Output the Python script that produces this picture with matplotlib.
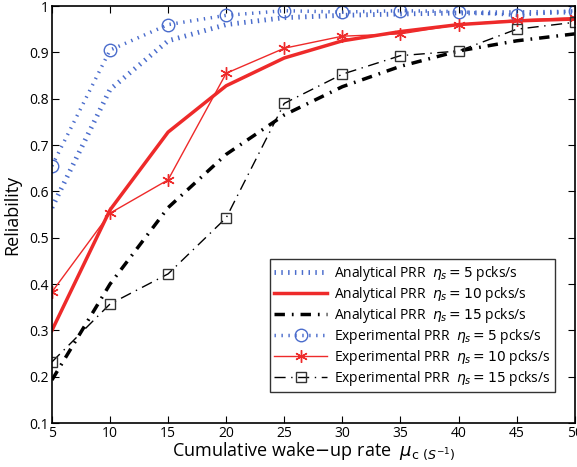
import numpy as np
import matplotlib
matplotlib.use("Agg")
import matplotlib.pyplot as plt

##
#    Data
##
mu = [5, 10, 15, 20, 25, 30, 35, 40, 45, 50]

ana_5 = [0.565, 0.82, 0.925, 0.96, 0.975, 0.98, 0.983, 0.985, 0.986, 0.987]
ana_10 = [0.30, 0.56, 0.728, 0.828, 0.888, 0.925, 0.945, 0.96, 0.968, 0.972]
ana_15 = [0.193, 0.40, 0.565, 0.68, 0.765, 0.826, 0.87, 0.903, 0.925, 0.94]

exp_5 = [0.655, 0.905, 0.96, 0.98, 0.99, 0.987, 0.99, 0.988, 0.98, 0.99]
exp_10 = [0.383, 0.553, 0.625, 0.855, 0.909, 0.935, 0.94, 0.96, 0.97, 0.975]
exp_15 = [0.232, 0.357, 0.422, 0.543, 0.79, 0.853, 0.893, 0.903, 0.95, 0.965]

labels = ["Analytical PRR  $\\eta_s = 5$ pcks/s",
          "Analytical PRR  $\\eta_s = 10$ pcks/s",
          "Analytical PRR  $\\eta_s = 15$ pcks/s",
          "Experimental PRR  $\\eta_s = 5$ pcks/s",
          "Experimental PRR  $\\eta_s = 10$ pcks/s",
          "Experimental PRR  $\\eta_s = 15$ pcks/s"]

blue = '#4a6ccc'
red = '#ee2a2a'

plt.rcParams['font.family'] = ['Open Sans', 'DejaVu Sans']
plt.rcParams['mathtext.fontset'] = 'dejavusans'

fig = plt.figure(figsize=(5.77, 4.67), dpi=100)
ax = fig.add_axes([0.090, 0.094, 0.906, 0.893])

tick_dots = (0, (0.3, 1.1))   # short dashes across the line, like the original
ax.plot(mu, ana_5, color=blue, linewidth=3.5, linestyle=tick_dots,
        dash_capstyle='butt', label=labels[0])
ax.plot(mu, ana_10, color=red, linewidth=2.5, label=labels[1])
ax.plot(mu, ana_15, color='black', linewidth=2.5, linestyle=(0, (3, 2, 0.5, 2)),
        label=labels[2])
ax.plot(mu, exp_5, color=blue, linewidth=2.5, linestyle=(0, (0.4, 1.6)),
        dash_capstyle='butt', marker='o', markersize=9, markerfacecolor='none',
        markeredgewidth=1.0, label=labels[3])
ax.plot(mu, exp_10, color=red, linewidth=1.0, marker=(6, 2, 0), markersize=9,
        markeredgewidth=1.0, label=labels[4])
ax.plot(mu, exp_15, color='black', linewidth=1.0, linestyle=(0, (8, 4, 1, 4)),
        marker='s', markersize=7, markerfacecolor='none', markeredgecolor='#333333',
        markeredgewidth=1.0, label=labels[5])

ax.set_xlim(5, 50)
ax.set_ylim(0.1, 1)
ax.set_xticks(mu)
ax.set_xticklabels([str(m) for m in mu])
ax.set_yticks(np.arange(0.1, 1.01, 0.1))
ax.set_yticklabels(['0.1', '0.2', '0.3', '0.4', '0.5', '0.6', '0.7', '0.8', '0.9', '1'])
ax.tick_params(direction='in', top=True, right=True, labelsize=10, length=5, pad=2)
for s in ax.spines.values():
    s.set_linewidth(1.2)

ax.set_ylabel("Reliability", fontsize=13, labelpad=6)
ax.set_xlabel("Cumulative wake$-$up rate  $\\mu_{\\mathrm{c}\\ (S^{-1})}$",
              fontsize=13, labelpad=0)

leg = ax.legend(loc='lower right', bbox_to_anchor=(0.962, 0.074), fontsize=10,
                frameon=True, fancybox=False, edgecolor='black', handlelength=3.8,
                borderpad=0.3, labelspacing=0.15, handletextpad=0.5,
                borderaxespad=0)
leg.get_frame().set_linewidth(1.0)

fig.savefig("out.png", dpi=100)
